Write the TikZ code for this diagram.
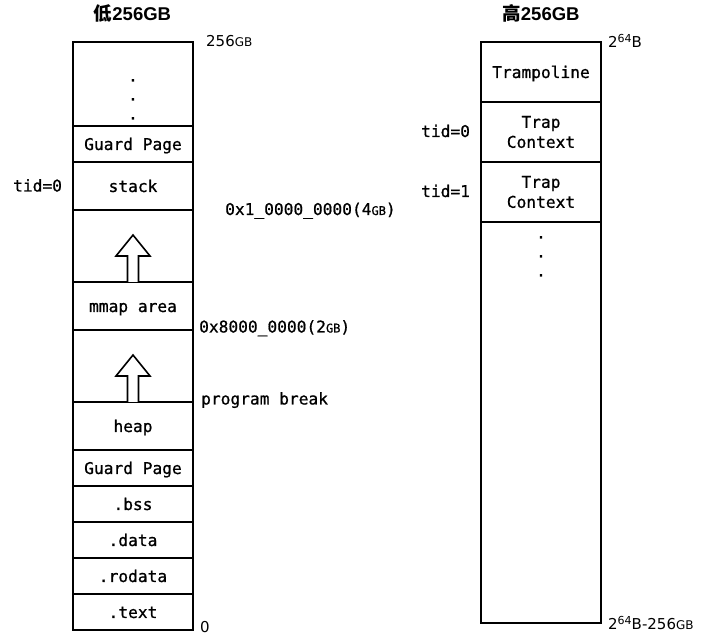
\documentclass[tikz,border=0pt]{standalone}
\usepackage{fontspec}
\newfontfamily\mono{DejaVu Sans Mono}[FakeBold=0.8]
\newfontfamily\lblsans{DejaVu Sans}
\newfontfamily\cjk{Noto Sans CJK SC}
\newfontfamily\titlelatin{Liberation Sans}
\newcommand\memfont{\mono\fontsize{16.2}{20}\selectfont}
\newcommand\lblfont{\lblsans\fontsize{15}{18}\selectfont}
\newcommand\gbs{{\fontsize{12}{12}\selectfont GB}}
\newcommand\supsix{\raisebox{5.5pt}{\fontsize{11}{11}\selectfont 64}}
\newcommand\titletext[1]{{\cjk\bfseries #1}{\titlelatin\bfseries 256GB}}
\tikzset{
  mem/.style={draw, line width=1.6pt, minimum width=120pt, inner sep=0pt, outer sep=0pt, font=\memfont, align=center, text height=14pt, text depth=2pt},
  memtwo/.style={draw, line width=1.6pt, minimum width=120pt, inner sep=0pt, outer sep=0pt, font=\memfont, align=center},
  lbl/.style={anchor=base west, inner sep=0pt, font=\memfont},
  clbl/.style={anchor=base west, inner sep=0pt, font=\lblfont},
  dotmark/.style={anchor=base, inner sep=0pt, font=\memfont},
  title/.style={inner sep=0pt, font=\fontsize{18.5}{20}\selectfont},
  blockarrow/.style={draw, fill=white, line width=1.6pt, line join=miter}
}
\begin{document}
\begin{tikzpicture}[x=1pt,y=-1pt]
\useasboundingbox[fill=white] (0,0) rectangle (716,644);
% titles
\node[title] (tl) at (132.5,13) {\titletext{低}};
\node[title] (tr) at (541,13) {\titletext{高}};
% left column
\node[mem, minimum height=84pt] (ltop) at (133,84) {};
\node[mem, minimum height=36pt] (gp1) at (133,144) {Guard Page};
\node[mem, minimum height=48pt] (stack) at (133,186) {stack};
\node[mem, minimum height=72pt] (gap1) at (133,246) {};
\node[mem, minimum height=48pt] (mmap) at (133,306) {mmap area};
\node[mem, minimum height=72pt] (gap2) at (133,366) {};
\node[mem, minimum height=48pt] (heap) at (133,426) {heap};
\node[mem, minimum height=36pt] (gp2) at (133,468) {Guard Page};
\node[mem, minimum height=36pt] (bss) at (133,504) {.bss};
\node[mem, minimum height=36pt] (data) at (133,540) {.data};
\node[mem, minimum height=36pt] (rodata) at (133,576) {.rodata};
\node[mem, minimum height=36pt] (text) at (133,612) {.text};
% dots left
\node[dotmark] (ld1) at (133,81.5) {.};
\node[dotmark] (ld2) at (133,100.5) {.};
\node[dotmark] (ld3) at (133,119.5) {.};
% block arrows
\draw[blockarrow] (gap1.south -| 127.5,0) -- (127.5,256) -- (116,256) -- (133,235) -- (150,256) -- (138.5,256) -- (gap1.south -| 138.5,0);
\draw[blockarrow] (gap2.south -| 127.5,0) -- (127.5,376) -- (116,376) -- (133,355) -- (150,376) -- (138.5,376) -- (gap2.south -| 138.5,0);
% left labels
\node[clbl] (l256) at (206,47) {256\gbs};
\node[lbl] (ltid0) at (13,191.5) {tid=0};
\node[lbl] (l4gb) at (225,215) {0x1\_0000\_0000(4\gbs)};
\node[lbl] (l2gb) at (199,332.5) {0x8000\_0000(2\gbs)};
\node[lbl] (lpb) at (201,404.5) {program break};
\node[clbl] (lzero) at (200,633) {0};
% right column
\node[mem, minimum height=60pt] (tramp) at (541,72) {Trampoline};
\node[memtwo, minimum height=60pt] (trap0) at (541,132) {Trap\\Context};
\node[memtwo, minimum height=60pt] (trap1) at (541,192) {Trap\\Context};
\node[mem, minimum height=401pt] (rrest) at (541,422.5) {};
\node[dotmark] (rd1) at (541,238.5) {.};
\node[dotmark] (rd2) at (541,257.5) {.};
\node[dotmark] (rd3) at (541,276.5) {.};
% right labels
\node[clbl] (r264) at (608,48) {2\supsix B};
\node[lbl] (rtid0) at (421,137) {tid=0};
\node[lbl] (rtid1) at (421,197) {tid=1};
\node[clbl] (rbot) at (608,630) {2\supsix B-256\gbs};
\end{tikzpicture}
\end{document}
